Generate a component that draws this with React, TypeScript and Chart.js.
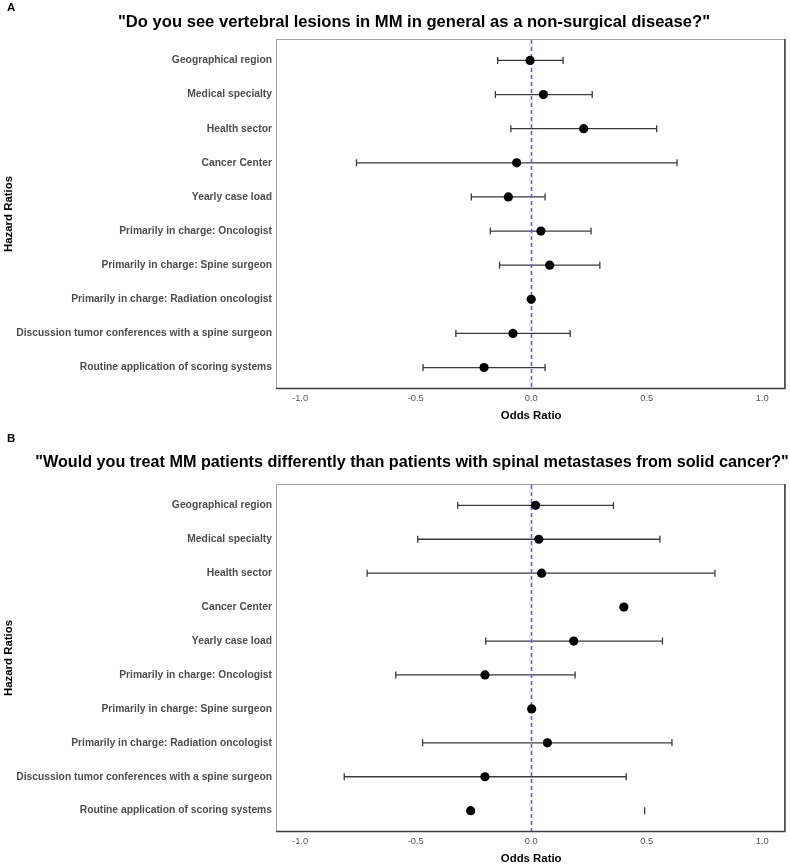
import { useEffect, useRef } from 'react';
import { Chart, registerables } from 'chart.js';

Chart.register(...registerables);

const FONT = '"Liberation Sans", Arial, Helvetica, sans-serif';

// Predictor rows, top to bottom
const rowLabels = [
  'Geographical region',
  'Medical specialty',
  'Health sector',
  'Cancer Center',
  'Yearly case load',
  'Primarily in charge: Oncologist',
  'Primarily in charge: Spine surgeon',
  'Primarily in charge: Radiation oncologist',
  'Discussion tumor conferences with a spine surgeon',
  'Routine application of scoring systems',
];

const xTickValues = [-1, -0.5, 0, 0.5, 1];

// Panel A: "non-surgical disease" question
const questionA = '"Do you see vertebral lesions in MM in general as a non-surgical disease?"';
const oddsA = [-0.005, 0.053, 0.227, -0.063, -0.099, 0.042, 0.08, 0.0, -0.079, -0.204];
const lowerA: (number | null)[] = [-0.145, -0.155, -0.088, -0.756, -0.259, -0.177, -0.137, null, -0.326, -0.468];
const upperA: (number | null)[] = [0.138, 0.264, 0.543, 0.631, 0.06, 0.259, 0.297, null, 0.169, 0.06];

// Panel B: "treat differently" question
const questionB = '"Would you treat MM patients differently than patients with spinal metastases from solid cancer?"';
const oddsB = [0.019, 0.033, 0.045, 0.401, 0.184, -0.2, 0.002, 0.07, -0.2, -0.262];
const lowerB: (number | null)[] = [-0.318, -0.491, -0.71, null, -0.197, -0.586, null, -0.47, -0.809, null];
const upperB: (number | null)[] = [0.356, 0.557, 0.795, null, 0.568, 0.19, null, 0.609, 0.411, 0.491];

type PanelProps = {
  letter: string;
  question: string;
  odds: number[];
  lower: (number | null)[];
  upper: (number | null)[];
  pageTop: number;
  canvasHeight: number;
  plotTop: number;
  letterBaseline: number;
  titleBaseline: number;
  titleSize: number;
  titleCenter: number;
};

function ForestPanel(p: PanelProps) {
  const ref = useRef<HTMLCanvasElement | null>(null);

  useEffect(() => {
    const canvas = ref.current;
    if (!canvas) return;

    const decor = {
      id: 'forestDecor',
      beforeDatasetsDraw(chart: any) {
        const { ctx, chartArea } = chart;
        const xs = chart.scales.x;
        const ys = chart.scales.y;
        ctx.save();
        // confidence intervals
        ctx.strokeStyle = '#3a3a3a';
        ctx.lineWidth = 1.3;
        p.odds.forEach((_, i) => {
          const y = ys.getPixelForValue(i + 1);
          const lo = p.lower[i];
          const hi = p.upper[i];
          if (lo != null && hi != null) {
            ctx.beginPath();
            ctx.moveTo(xs.getPixelForValue(lo), y);
            ctx.lineTo(xs.getPixelForValue(hi), y);
            ctx.stroke();
          }
          [lo, hi].forEach((v) => {
            if (v == null) return;
            const x = xs.getPixelForValue(v);
            ctx.beginPath();
            ctx.moveTo(x, y - 3.5);
            ctx.lineTo(x, y + 3.5);
            ctx.stroke();
          });
        });
        // reference line at zero
        const x0 = Math.round(xs.getPixelForValue(0)) + 0.5;
        ctx.strokeStyle = '#5c5cff';
        ctx.lineWidth = 1.6;
        ctx.setLineDash([4, 3]);
        ctx.beginPath();
        ctx.moveTo(x0, chartArea.top);
        ctx.lineTo(x0, chartArea.bottom);
        ctx.stroke();
        ctx.restore();
      },
      afterDraw(chart: any) {
        const { ctx, chartArea } = chart;
        const { left, right, top, bottom } = chartArea;
        ctx.save();
        // panel border: light top/left, dark right/bottom
        ctx.strokeStyle = '#a0a0a0';
        ctx.lineWidth = 1;
        ctx.beginPath();
        ctx.moveTo(left - 0.5, bottom);
        ctx.lineTo(left - 0.5, top - 0.5);
        ctx.lineTo(right, top - 0.5);
        ctx.stroke();
        ctx.strokeStyle = '#3c3c3c';
        ctx.lineWidth = 1.6;
        ctx.beginPath();
        ctx.moveTo(left - 1, bottom + 0.5);
        ctx.lineTo(right - 0.5, bottom + 0.5);
        ctx.lineTo(right - 0.5, top - 1);
        ctx.stroke();
        // panel letter and question
        ctx.fillStyle = '#000';
        ctx.textBaseline = 'alphabetic';
        ctx.textAlign = 'left';
        ctx.font = `bold 11.5px ${FONT}`;
        ctx.fillText(p.letter, 7, p.letterBaseline);
        ctx.textAlign = 'center';
        ctx.font = `bold ${p.titleSize}px ${FONT}`;
        ctx.fillText(p.question, p.titleCenter, p.titleBaseline);
        ctx.restore();
      },
    };

    const chart = new Chart(canvas, {
      type: 'scatter',
      data: {
        datasets: [
          {
            data: p.odds.map((v, i) => ({ x: v, y: i + 1 })),
            backgroundColor: '#000',
            borderWidth: 0,
            pointRadius: 4.6,
            pointHoverRadius: 4.6,
          },
        ],
      },
      options: {
        animation: false,
        responsive: false,
        events: [],
        layout: { padding: { top: p.plotTop, left: 0, right: 3, bottom: 0 } },
        plugins: { legend: { display: false }, tooltip: { enabled: false }, title: { display: false } },
        scales: {
          x: {
            type: 'linear',
            min: -1.1,
            max: 1.1,
            grid: { display: false, drawTicks: false },
            border: { display: false },
            afterBuildTicks: (scale: any) => {
              scale.ticks = xTickValues.map((v) => ({ value: v }));
            },
            afterFit: (scale: any) => {
              scale.height = 44;
              scale.paddingLeft = 0;
              scale.paddingRight = 0;
            },
            ticks: {
              padding: 5,
              color: '#555',
              font: { family: FONT, size: 9.3 },
              callback: (v: any) => Number(v).toFixed(1),
            },
            title: {
              display: true,
              text: 'Odds Ratio',
              color: '#000',
              font: { family: FONT, size: 11.4, weight: 'bold' },
              padding: { top: 0, bottom: 9 },
            },
          },
          y: {
            type: 'linear',
            reverse: true,
            min: 0.4,
            max: 10.6,
            grid: { display: false, drawTicks: false },
            border: { display: false },
            afterBuildTicks: (scale: any) => {
              scale.ticks = rowLabels.map((_, i) => ({ value: i + 1 }));
            },
            afterFit: (scale: any) => {
              scale.width = 277;
              scale.paddingTop = 0;
              scale.paddingBottom = 0;
            },
            ticks: {
              padding: 5,
              color: '#4d4d4d',
              font: { family: FONT, size: 10.3, weight: 'bold' },
              callback: (v: any) => rowLabels[Math.round(Number(v)) - 1] ?? '',
            },
            title: {
              display: true,
              text: 'Hazard Ratios',
              color: '#000',
              font: { family: FONT, size: 11.4, weight: 'bold' },
              padding: { top: 2, bottom: 0 },
            },
          },
        },
      },
      plugins: [decor],
    } as any);

    return () => chart.destroy();
  }, [p]);

  return (
    <div style={{ position: 'absolute', left: 0, top: p.pageTop, width: 790, height: p.canvasHeight }}>
      <canvas ref={ref} width={790} height={p.canvasHeight} style={{ display: 'block' }} />
    </div>
  );
}

const panelA: PanelProps = {
  letter: 'A',
  question: questionA,
  odds: oddsA,
  lower: lowerA,
  upper: upperA,
  pageTop: 0,
  canvasHeight: 432,
  plotTop: 40,
  letterBaseline: 11,
  titleBaseline: 27,
  titleSize: 16.6,
  titleCenter: 414,
};

const panelB: PanelProps = {
  letter: 'B',
  question: questionB,
  odds: oddsB,
  lower: lowerB,
  upper: upperB,
  pageTop: 432,
  canvasHeight: 443,
  plotTop: 53,
  letterBaseline: 10,
  titleBaseline: 35,
  titleSize: 16.2,
  titleCenter: 412,
};

export default function App() {
  return (
    <div
      style={{
        position: 'absolute',
        left: 0,
        top: 0,
        width: 790,
        height: 864,
        overflow: 'hidden',
        background: '#fff',
      }}
    >
      <ForestPanel {...panelA} />
      <ForestPanel {...panelB} />
    </div>
  );
}
